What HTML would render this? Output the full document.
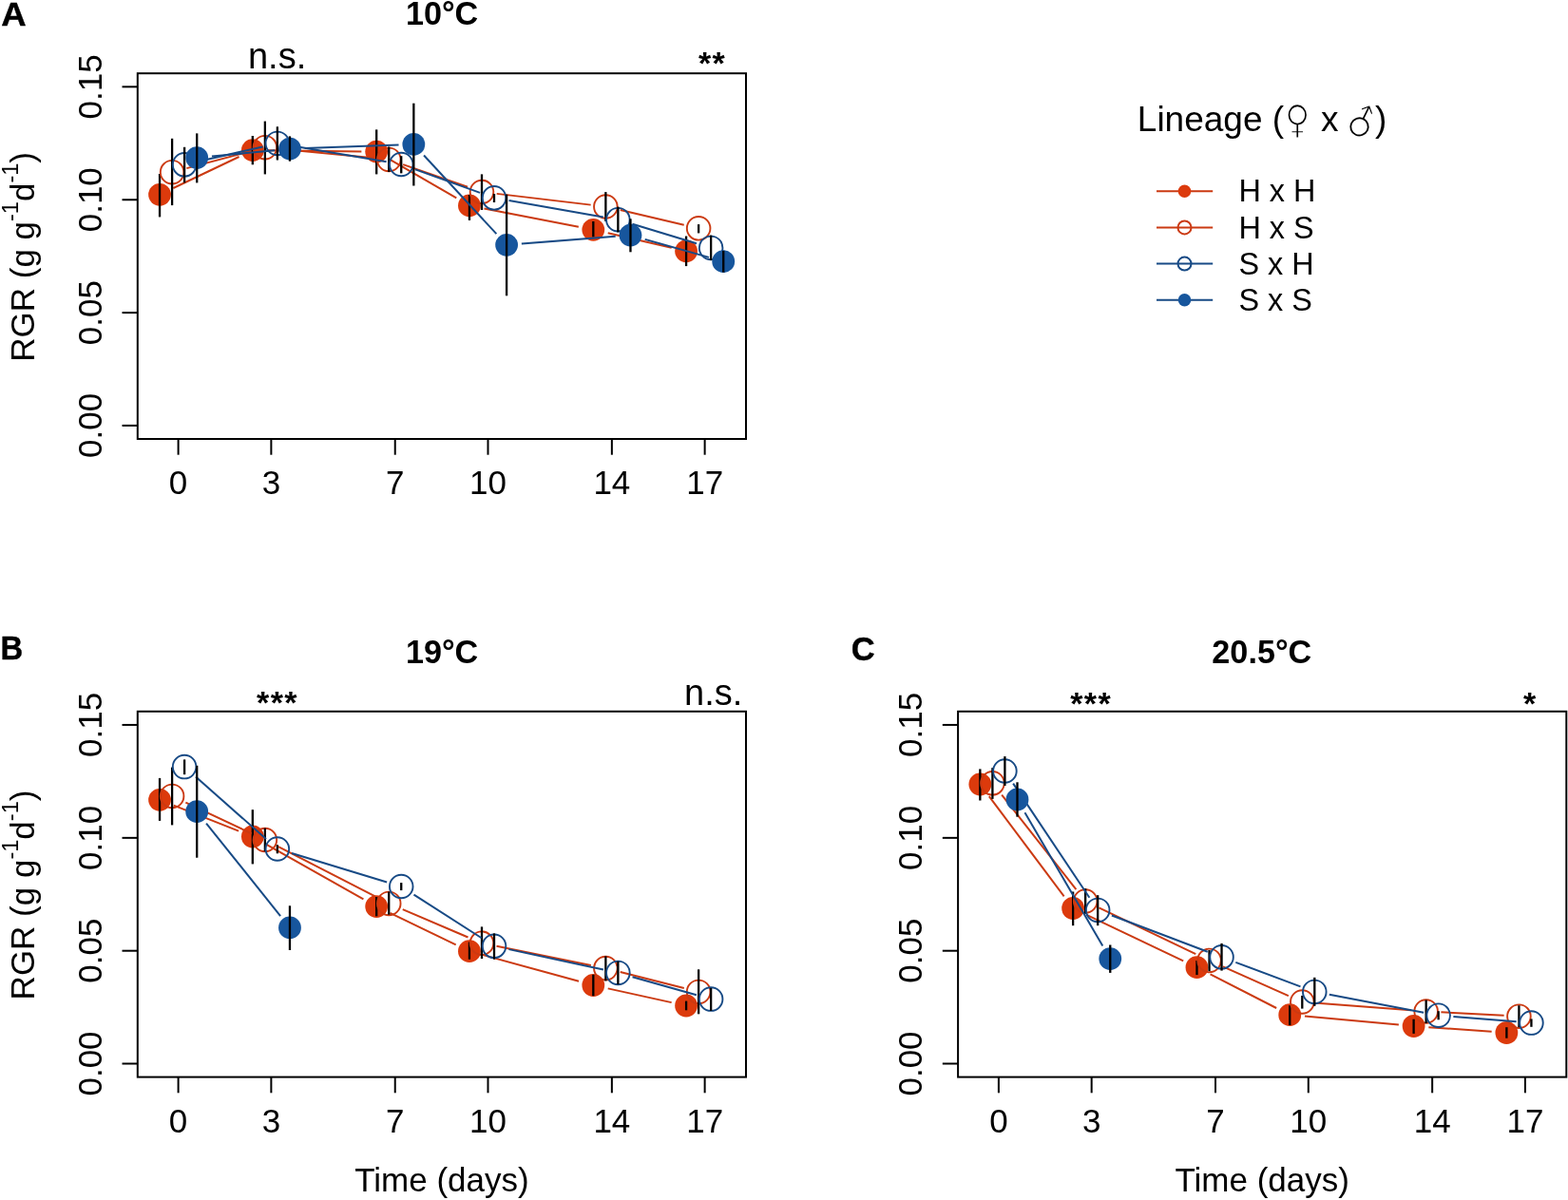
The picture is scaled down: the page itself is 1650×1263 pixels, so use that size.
<!DOCTYPE html>
<html lang="en"><head><meta charset="utf-8"><title>RGR by lineage and temperature</title>
<style>
html,body{margin:0;padding:0;background:#fff;}
body{width:1650px;height:1263px;}
svg{display:block;}
text{font-family:"Liberation Sans", Arial, Helvetica, sans-serif;fill:#000;}
.ax{font-size:35px;}
.sup{font-size:23.5px;}
.bold{font-size:34.5px;font-weight:bold;stroke:#000;stroke-width:0.4px;}
.title{font-size:34.2px;font-weight:bold;}
.sig{font-size:38px;}
.ast{font-size:34px;font-weight:bold;letter-spacing:1.4px;}
.legt{font-size:37px;}
.leg{font-size:32.4px;}
.sym{font-family:"DejaVu Sans", "Liberation Sans", sans-serif;font-size:37px;stroke:#fff;stroke-width:1.5px;}
</style></head>
<body>
<svg width="1650" height="1263" viewBox="0 0 1650 1263" role="img" aria-label="Relative growth rate over time for four lineages at 10, 19 and 20.5 degrees C">
<rect width="1650" height="1263" fill="#fff"/>
<g transform="translate(0,0)">
<rect x="144.8" y="77.2" width="640.2" height="384.8" fill="none" stroke="#000" stroke-width="2.0"/>
<line x1="187.6" y1="462.0" x2="187.6" y2="478.7" stroke="#000" stroke-width="2.0"/>
<text transform="translate(187.6,520.3) scale(1.0,1.02)" text-anchor="middle" class="ax">0</text>
<line x1="285.37" y1="462.0" x2="285.37" y2="478.7" stroke="#000" stroke-width="2.0"/>
<text transform="translate(285.37,520.3) scale(1.0,1.02)" text-anchor="middle" class="ax">3</text>
<line x1="415.73" y1="462.0" x2="415.73" y2="478.7" stroke="#000" stroke-width="2.0"/>
<text transform="translate(415.73,520.3) scale(1.0,1.02)" text-anchor="middle" class="ax">7</text>
<line x1="513.5" y1="462.0" x2="513.5" y2="478.7" stroke="#000" stroke-width="2.0"/>
<text transform="translate(513.5,520.3) scale(1.0,1.02)" text-anchor="middle" class="ax">10</text>
<line x1="643.86" y1="462.0" x2="643.86" y2="478.7" stroke="#000" stroke-width="2.0"/>
<text transform="translate(643.86,520.3) scale(1.0,1.02)" text-anchor="middle" class="ax">14</text>
<line x1="741.63" y1="462.0" x2="741.63" y2="478.7" stroke="#000" stroke-width="2.0"/>
<text transform="translate(741.63,520.3) scale(1.0,1.02)" text-anchor="middle" class="ax">17</text>
<line x1="128.5" y1="91.35" x2="144.8" y2="91.35" stroke="#000" stroke-width="2.0"/>
<text transform="translate(106.9,91.35) rotate(-90) scale(1.0,1.02)" text-anchor="middle" class="ax">0.15</text>
<line x1="128.5" y1="210.25" x2="144.8" y2="210.25" stroke="#000" stroke-width="2.0"/>
<text transform="translate(106.9,210.25) rotate(-90) scale(1.0,1.02)" text-anchor="middle" class="ax">0.10</text>
<line x1="128.5" y1="329.1" x2="144.8" y2="329.1" stroke="#000" stroke-width="2.0"/>
<text transform="translate(106.9,329.1) rotate(-90) scale(1.0,1.02)" text-anchor="middle" class="ax">0.05</text>
<line x1="128.5" y1="447.9" x2="144.8" y2="447.9" stroke="#000" stroke-width="2.0"/>
<text transform="translate(106.9,447.9) rotate(-90) scale(1.0,1.02)" text-anchor="middle" class="ax">0.00</text>
<text transform="translate(35.6,270.4) rotate(-90) scale(1.0,1.0)" text-anchor="middle" class="ax">RGR (g g<tspan class="sup" dy="-17.0">-1</tspan><tspan dy="17.0">d</tspan><tspan class="sup" dy="-17.0">-1</tspan><tspan dy="17.0">)</tspan></text>
</g>
<line x1="182.31" y1="198" x2="251.56" y2="165" stroke="#CB3A12" stroke-width="2.0"/>
<line x1="281.62" y1="158.37" x2="380.38" y2="159.43" stroke="#CB3A12" stroke-width="2.0"/>
<line x1="409.84" y1="167.54" x2="480.29" y2="208.46" stroke="#CB3A12" stroke-width="2.0"/>
<line x1="509.46" y1="219.42" x2="608.8" y2="238.78" stroke="#CB3A12" stroke-width="2.0"/>
<line x1="639.71" y1="245.34" x2="706.68" y2="260.76" stroke="#CB3A12" stroke-width="2.0"/>
<circle cx="168.05" cy="204.8" r="11.9" fill="#DC3A0C"/>
<circle cx="265.82" cy="158.2" r="11.9" fill="#DC3A0C"/>
<circle cx="396.18" cy="159.6" r="11.9" fill="#DC3A0C"/>
<circle cx="493.95" cy="216.4" r="11.9" fill="#DC3A0C"/>
<circle cx="624.31" cy="241.8" r="11.9" fill="#DC3A0C"/>
<circle cx="722.08" cy="264.3" r="11.9" fill="#DC3A0C"/>
<line x1="168.05" y1="183" x2="168.05" y2="228.4" stroke="#000" stroke-width="2.3" stroke-linecap="butt"/>
<line x1="265.82" y1="143" x2="265.82" y2="173.3" stroke="#000" stroke-width="2.3" stroke-linecap="butt"/>
<line x1="396.18" y1="136.4" x2="396.18" y2="183.4" stroke="#000" stroke-width="2.3" stroke-linecap="butt"/>
<line x1="493.95" y1="205" x2="493.95" y2="231.9" stroke="#000" stroke-width="2.3" stroke-linecap="butt"/>
<line x1="624.31" y1="233" x2="624.31" y2="249.4" stroke="#000" stroke-width="2.3" stroke-linecap="butt"/>
<line x1="722.08" y1="248.5" x2="722.08" y2="280.1" stroke="#000" stroke-width="2.3" stroke-linecap="butt"/>
<line x1="196.37" y1="177.14" x2="263.6" y2="159.26" stroke="#CB3A12" stroke-width="2.0"/>
<line x1="294.6" y1="156.73" x2="393.5" y2="166.37" stroke="#CB3A12" stroke-width="2.0"/>
<line x1="424.15" y1="173.1" x2="492.08" y2="196.8" stroke="#CB3A12" stroke-width="2.0"/>
<line x1="522.69" y1="203.87" x2="621.67" y2="215.63" stroke="#CB3A12" stroke-width="2.0"/>
<line x1="652.75" y1="221.09" x2="719.74" y2="236.71" stroke="#CB3A12" stroke-width="2.0"/>
<circle cx="181.1" cy="181.2" r="12.3" fill="none" stroke="#CB3A12" stroke-width="1.9"/>
<circle cx="278.87" cy="155.2" r="12.3" fill="none" stroke="#CB3A12" stroke-width="1.9"/>
<circle cx="409.23" cy="167.9" r="12.3" fill="none" stroke="#CB3A12" stroke-width="1.9"/>
<circle cx="507" cy="202" r="12.3" fill="none" stroke="#CB3A12" stroke-width="1.9"/>
<circle cx="637.36" cy="217.5" r="12.3" fill="none" stroke="#CB3A12" stroke-width="1.9"/>
<circle cx="735.13" cy="240.3" r="12.3" fill="none" stroke="#CB3A12" stroke-width="1.9"/>
<line x1="181.1" y1="145.8" x2="181.1" y2="216.1" stroke="#000" stroke-width="2.3" stroke-linecap="butt"/>
<line x1="278.87" y1="127.6" x2="278.87" y2="183.4" stroke="#000" stroke-width="2.3" stroke-linecap="butt"/>
<line x1="409.23" y1="154.5" x2="409.23" y2="181" stroke="#000" stroke-width="2.3" stroke-linecap="butt"/>
<line x1="507" y1="183.4" x2="507" y2="221" stroke="#000" stroke-width="2.3" stroke-linecap="butt"/>
<line x1="637.36" y1="202.1" x2="637.36" y2="232.9" stroke="#000" stroke-width="2.3" stroke-linecap="butt"/>
<line x1="735.13" y1="236.1" x2="735.13" y2="245.4" stroke="#000" stroke-width="2.3" stroke-linecap="butt"/>
<line x1="209.5" y1="169.77" x2="276.47" y2="154.43" stroke="#174A85" stroke-width="2.0"/>
<line x1="307.45" y1="153.54" x2="406.65" y2="170.36" stroke="#174A85" stroke-width="2.0"/>
<line x1="437.09" y1="178.37" x2="505.14" y2="202.93" stroke="#174A85" stroke-width="2.0"/>
<line x1="535.56" y1="211.03" x2="634.8" y2="228.47" stroke="#174A85" stroke-width="2.0"/>
<line x1="665.48" y1="235.79" x2="733.01" y2="256.31" stroke="#174A85" stroke-width="2.0"/>
<circle cx="194.1" cy="173.3" r="12.3" fill="none" stroke="#174A85" stroke-width="1.9"/>
<circle cx="291.87" cy="150.9" r="12.3" fill="none" stroke="#174A85" stroke-width="1.9"/>
<circle cx="422.23" cy="173" r="12.3" fill="none" stroke="#174A85" stroke-width="1.9"/>
<circle cx="520" cy="208.3" r="12.3" fill="none" stroke="#174A85" stroke-width="1.9"/>
<circle cx="650.36" cy="231.2" r="12.3" fill="none" stroke="#174A85" stroke-width="1.9"/>
<circle cx="748.13" cy="260.9" r="12.3" fill="none" stroke="#174A85" stroke-width="1.9"/>
<line x1="194.1" y1="154.8" x2="194.1" y2="192.4" stroke="#000" stroke-width="2.3" stroke-linecap="butt"/>
<line x1="291.87" y1="133.3" x2="291.87" y2="168.5" stroke="#000" stroke-width="2.3" stroke-linecap="butt"/>
<line x1="422.23" y1="164.2" x2="422.23" y2="182.4" stroke="#000" stroke-width="2.3" stroke-linecap="butt"/>
<line x1="520" y1="204" x2="520" y2="213" stroke="#000" stroke-width="2.3" stroke-linecap="butt"/>
<line x1="650.36" y1="217.6" x2="650.36" y2="244.4" stroke="#000" stroke-width="2.3" stroke-linecap="butt"/>
<line x1="748.13" y1="247.6" x2="748.13" y2="274" stroke="#000" stroke-width="2.3" stroke-linecap="butt"/>
<line x1="222.93" y1="164.59" x2="289.24" y2="158.21" stroke="#174A85" stroke-width="2.0"/>
<line x1="320.76" y1="156.12" x2="419.54" y2="152.48" stroke="#174A85" stroke-width="2.0"/>
<line x1="446.05" y1="163.51" x2="522.38" y2="246.19" stroke="#174A85" stroke-width="2.0"/>
<line x1="548.85" y1="256.57" x2="647.71" y2="248.83" stroke="#174A85" stroke-width="2.0"/>
<line x1="678.67" y1="251.89" x2="746.02" y2="270.91" stroke="#174A85" stroke-width="2.0"/>
<circle cx="207.2" cy="166.1" r="11.9" fill="#17569D"/>
<circle cx="304.97" cy="156.7" r="11.9" fill="#17569D"/>
<circle cx="435.33" cy="151.9" r="11.9" fill="#17569D"/>
<circle cx="533.1" cy="257.8" r="11.9" fill="#17569D"/>
<circle cx="663.46" cy="247.6" r="11.9" fill="#17569D"/>
<circle cx="761.23" cy="275.2" r="11.9" fill="#17569D"/>
<line x1="207.2" y1="140.4" x2="207.2" y2="192.4" stroke="#000" stroke-width="2.3" stroke-linecap="butt"/>
<line x1="304.97" y1="143.4" x2="304.97" y2="169.7" stroke="#000" stroke-width="2.3" stroke-linecap="butt"/>
<line x1="435.33" y1="108.7" x2="435.33" y2="195.5" stroke="#000" stroke-width="2.3" stroke-linecap="butt"/>
<line x1="533.1" y1="204.7" x2="533.1" y2="311.3" stroke="#000" stroke-width="2.3" stroke-linecap="butt"/>
<line x1="663.46" y1="230.3" x2="663.46" y2="265.3" stroke="#000" stroke-width="2.3" stroke-linecap="butt"/>
<line x1="761.23" y1="263.9" x2="761.23" y2="286.6" stroke="#000" stroke-width="2.3" stroke-linecap="butt"/>
<g transform="translate(0,671.6)">
<rect x="144.8" y="77.2" width="640.2" height="384.8" fill="none" stroke="#000" stroke-width="2.0"/>
<line x1="187.6" y1="462.0" x2="187.6" y2="478.7" stroke="#000" stroke-width="2.0"/>
<text transform="translate(187.6,520.3) scale(1.0,1.02)" text-anchor="middle" class="ax">0</text>
<line x1="285.37" y1="462.0" x2="285.37" y2="478.7" stroke="#000" stroke-width="2.0"/>
<text transform="translate(285.37,520.3) scale(1.0,1.02)" text-anchor="middle" class="ax">3</text>
<line x1="415.73" y1="462.0" x2="415.73" y2="478.7" stroke="#000" stroke-width="2.0"/>
<text transform="translate(415.73,520.3) scale(1.0,1.02)" text-anchor="middle" class="ax">7</text>
<line x1="513.5" y1="462.0" x2="513.5" y2="478.7" stroke="#000" stroke-width="2.0"/>
<text transform="translate(513.5,520.3) scale(1.0,1.02)" text-anchor="middle" class="ax">10</text>
<line x1="643.86" y1="462.0" x2="643.86" y2="478.7" stroke="#000" stroke-width="2.0"/>
<text transform="translate(643.86,520.3) scale(1.0,1.02)" text-anchor="middle" class="ax">14</text>
<line x1="741.63" y1="462.0" x2="741.63" y2="478.7" stroke="#000" stroke-width="2.0"/>
<text transform="translate(741.63,520.3) scale(1.0,1.02)" text-anchor="middle" class="ax">17</text>
<line x1="128.5" y1="91.35" x2="144.8" y2="91.35" stroke="#000" stroke-width="2.0"/>
<text transform="translate(106.9,91.35) rotate(-90) scale(1.0,1.02)" text-anchor="middle" class="ax">0.15</text>
<line x1="128.5" y1="210.25" x2="144.8" y2="210.25" stroke="#000" stroke-width="2.0"/>
<text transform="translate(106.9,210.25) rotate(-90) scale(1.0,1.02)" text-anchor="middle" class="ax">0.10</text>
<line x1="128.5" y1="329.1" x2="144.8" y2="329.1" stroke="#000" stroke-width="2.0"/>
<text transform="translate(106.9,329.1) rotate(-90) scale(1.0,1.02)" text-anchor="middle" class="ax">0.05</text>
<line x1="128.5" y1="447.9" x2="144.8" y2="447.9" stroke="#000" stroke-width="2.0"/>
<text transform="translate(106.9,447.9) rotate(-90) scale(1.0,1.02)" text-anchor="middle" class="ax">0.00</text>
<text transform="translate(35.6,270.4) rotate(-90) scale(1.0,1.0)" text-anchor="middle" class="ax">RGR (g g<tspan class="sup" dy="-17.0">-1</tspan><tspan dy="17.0">d</tspan><tspan class="sup" dy="-17.0">-1</tspan><tspan dy="17.0">)</tspan></text>
<text transform="translate(464.9,582.7) scale(1.0,1.0)" text-anchor="middle" class="ax">Time (days)</text>
</g>
<line x1="182.74" y1="847.62" x2="251.13" y2="874.68" stroke="#CB3A12" stroke-width="2.0"/>
<line x1="279.58" y1="888.27" x2="382.42" y2="946.33" stroke="#CB3A12" stroke-width="2.0"/>
<line x1="410.41" y1="960.96" x2="479.72" y2="994.34" stroke="#CB3A12" stroke-width="2.0"/>
<line x1="509.19" y1="1005.38" x2="609.07" y2="1032.82" stroke="#CB3A12" stroke-width="2.0"/>
<line x1="639.74" y1="1040.39" x2="706.65" y2="1055.11" stroke="#CB3A12" stroke-width="2.0"/>
<circle cx="168.05" cy="841.8" r="11.9" fill="#DC3A0C"/>
<circle cx="265.82" cy="880.5" r="11.9" fill="#DC3A0C"/>
<circle cx="396.18" cy="954.1" r="11.9" fill="#DC3A0C"/>
<circle cx="493.95" cy="1001.2" r="11.9" fill="#DC3A0C"/>
<circle cx="624.31" cy="1037" r="11.9" fill="#DC3A0C"/>
<circle cx="722.08" cy="1058.5" r="11.9" fill="#DC3A0C"/>
<line x1="168.05" y1="818.9" x2="168.05" y2="863.9" stroke="#000" stroke-width="2.3" stroke-linecap="butt"/>
<line x1="265.82" y1="852.2" x2="265.82" y2="909.4" stroke="#000" stroke-width="2.3" stroke-linecap="butt"/>
<line x1="396.18" y1="944" x2="396.18" y2="964.3" stroke="#000" stroke-width="2.3" stroke-linecap="butt"/>
<line x1="493.95" y1="991.5" x2="493.95" y2="1009.7" stroke="#000" stroke-width="2.3" stroke-linecap="butt"/>
<line x1="624.31" y1="1025.8" x2="624.31" y2="1048.2" stroke="#000" stroke-width="2.3" stroke-linecap="butt"/>
<line x1="722.08" y1="1053.6" x2="722.08" y2="1063.3" stroke="#000" stroke-width="2.3" stroke-linecap="butt"/>
<line x1="195.39" y1="844.64" x2="264.58" y2="877.26" stroke="#CB3A12" stroke-width="2.0"/>
<line x1="292.93" y1="891.21" x2="395.17" y2="943.69" stroke="#CB3A12" stroke-width="2.0"/>
<line x1="423.76" y1="957.11" x2="492.47" y2="986.49" stroke="#CB3A12" stroke-width="2.0"/>
<line x1="522.49" y1="995.84" x2="621.87" y2="1015.96" stroke="#CB3A12" stroke-width="2.0"/>
<line x1="652.67" y1="1022.98" x2="719.82" y2="1040.02" stroke="#CB3A12" stroke-width="2.0"/>
<circle cx="181.1" cy="837.9" r="12.3" fill="none" stroke="#CB3A12" stroke-width="1.9"/>
<circle cx="278.87" cy="884" r="12.3" fill="none" stroke="#CB3A12" stroke-width="1.9"/>
<circle cx="409.23" cy="950.9" r="12.3" fill="none" stroke="#CB3A12" stroke-width="1.9"/>
<circle cx="507" cy="992.7" r="12.3" fill="none" stroke="#CB3A12" stroke-width="1.9"/>
<circle cx="637.36" cy="1019.1" r="12.3" fill="none" stroke="#CB3A12" stroke-width="1.9"/>
<circle cx="735.13" cy="1043.9" r="12.3" fill="none" stroke="#CB3A12" stroke-width="1.9"/>
<line x1="181.1" y1="807.6" x2="181.1" y2="868.4" stroke="#000" stroke-width="2.3" stroke-linecap="butt"/>
<line x1="278.87" y1="871.6" x2="278.87" y2="896.2" stroke="#000" stroke-width="2.3" stroke-linecap="butt"/>
<line x1="409.23" y1="938.5" x2="409.23" y2="962.7" stroke="#000" stroke-width="2.3" stroke-linecap="butt"/>
<line x1="507" y1="975.4" x2="507" y2="1009.1" stroke="#000" stroke-width="2.3" stroke-linecap="butt"/>
<line x1="637.36" y1="1006.4" x2="637.36" y2="1032.4" stroke="#000" stroke-width="2.3" stroke-linecap="butt"/>
<line x1="735.13" y1="1020.3" x2="735.13" y2="1067.3" stroke="#000" stroke-width="2.3" stroke-linecap="butt"/>
<line x1="205.94" y1="817.56" x2="280.03" y2="883.04" stroke="#174A85" stroke-width="2.0"/>
<line x1="306.99" y1="898.08" x2="407.11" y2="928.42" stroke="#174A85" stroke-width="2.0"/>
<line x1="435.52" y1="941.54" x2="506.71" y2="987.26" stroke="#174A85" stroke-width="2.0"/>
<line x1="535.45" y1="999.13" x2="634.91" y2="1020.57" stroke="#174A85" stroke-width="2.0"/>
<line x1="665.56" y1="1028.21" x2="732.93" y2="1047.29" stroke="#174A85" stroke-width="2.0"/>
<circle cx="194.1" cy="807.1" r="12.3" fill="none" stroke="#174A85" stroke-width="1.9"/>
<circle cx="291.87" cy="893.5" r="12.3" fill="none" stroke="#174A85" stroke-width="1.9"/>
<circle cx="422.23" cy="933" r="12.3" fill="none" stroke="#174A85" stroke-width="1.9"/>
<circle cx="520" cy="995.8" r="12.3" fill="none" stroke="#174A85" stroke-width="1.9"/>
<circle cx="650.36" cy="1023.9" r="12.3" fill="none" stroke="#174A85" stroke-width="1.9"/>
<circle cx="748.13" cy="1051.6" r="12.3" fill="none" stroke="#174A85" stroke-width="1.9"/>
<line x1="194.1" y1="799.4" x2="194.1" y2="815.2" stroke="#000" stroke-width="2.3" stroke-linecap="butt"/>
<line x1="291.87" y1="889.2" x2="291.87" y2="898.3" stroke="#000" stroke-width="2.3" stroke-linecap="butt"/>
<line x1="422.23" y1="929.1" x2="422.23" y2="937.1" stroke="#000" stroke-width="2.3" stroke-linecap="butt"/>
<line x1="520" y1="982.4" x2="520" y2="1009.7" stroke="#000" stroke-width="2.3" stroke-linecap="butt"/>
<line x1="650.36" y1="1011.8" x2="650.36" y2="1036.1" stroke="#000" stroke-width="2.3" stroke-linecap="butt"/>
<line x1="748.13" y1="1039.9" x2="748.13" y2="1063.9" stroke="#000" stroke-width="2.3" stroke-linecap="butt"/>
<line x1="217.07" y1="866.54" x2="295.1" y2="964.06" stroke="#174A85" stroke-width="2.0"/>
<circle cx="207.2" cy="854.2" r="11.9" fill="#17569D"/>
<circle cx="304.97" cy="976.4" r="11.9" fill="#17569D"/>
<line x1="207.2" y1="805.8" x2="207.2" y2="902.7" stroke="#000" stroke-width="2.3" stroke-linecap="butt"/>
<line x1="304.97" y1="953.3" x2="304.97" y2="1000" stroke="#000" stroke-width="2.3" stroke-linecap="butt"/>
<g transform="translate(863.3,671.6)">
<rect x="144.8" y="77.2" width="640.2" height="384.8" fill="none" stroke="#000" stroke-width="2.0"/>
<line x1="187.6" y1="462.0" x2="187.6" y2="478.7" stroke="#000" stroke-width="2.0"/>
<text transform="translate(187.6,520.3) scale(1.0,1.02)" text-anchor="middle" class="ax">0</text>
<line x1="285.37" y1="462.0" x2="285.37" y2="478.7" stroke="#000" stroke-width="2.0"/>
<text transform="translate(285.37,520.3) scale(1.0,1.02)" text-anchor="middle" class="ax">3</text>
<line x1="415.73" y1="462.0" x2="415.73" y2="478.7" stroke="#000" stroke-width="2.0"/>
<text transform="translate(415.73,520.3) scale(1.0,1.02)" text-anchor="middle" class="ax">7</text>
<line x1="513.5" y1="462.0" x2="513.5" y2="478.7" stroke="#000" stroke-width="2.0"/>
<text transform="translate(513.5,520.3) scale(1.0,1.02)" text-anchor="middle" class="ax">10</text>
<line x1="643.86" y1="462.0" x2="643.86" y2="478.7" stroke="#000" stroke-width="2.0"/>
<text transform="translate(643.86,520.3) scale(1.0,1.02)" text-anchor="middle" class="ax">14</text>
<line x1="741.63" y1="462.0" x2="741.63" y2="478.7" stroke="#000" stroke-width="2.0"/>
<text transform="translate(741.63,520.3) scale(1.0,1.02)" text-anchor="middle" class="ax">17</text>
<line x1="128.5" y1="91.35" x2="144.8" y2="91.35" stroke="#000" stroke-width="2.0"/>
<text transform="translate(106.9,91.35) rotate(-90) scale(1.0,1.02)" text-anchor="middle" class="ax">0.15</text>
<line x1="128.5" y1="210.25" x2="144.8" y2="210.25" stroke="#000" stroke-width="2.0"/>
<text transform="translate(106.9,210.25) rotate(-90) scale(1.0,1.02)" text-anchor="middle" class="ax">0.10</text>
<line x1="128.5" y1="329.1" x2="144.8" y2="329.1" stroke="#000" stroke-width="2.0"/>
<text transform="translate(106.9,329.1) rotate(-90) scale(1.0,1.02)" text-anchor="middle" class="ax">0.05</text>
<line x1="128.5" y1="447.9" x2="144.8" y2="447.9" stroke="#000" stroke-width="2.0"/>
<text transform="translate(106.9,447.9) rotate(-90) scale(1.0,1.02)" text-anchor="middle" class="ax">0.00</text>
<text transform="translate(464.9,582.7) scale(1.0,1.0)" text-anchor="middle" class="ax">Time (days)</text>
</g>
<line x1="1040.82" y1="838.14" x2="1119.65" y2="943.36" stroke="#CB3A12" stroke-width="2.0"/>
<line x1="1143.38" y1="962.8" x2="1245.22" y2="1011.4" stroke="#CB3A12" stroke-width="2.0"/>
<line x1="1273.55" y1="1025.39" x2="1343.18" y2="1061.01" stroke="#CB3A12" stroke-width="2.0"/>
<line x1="1372.99" y1="1069.62" x2="1471.87" y2="1078.58" stroke="#CB3A12" stroke-width="2.0"/>
<line x1="1503.37" y1="1081.13" x2="1569.62" y2="1085.87" stroke="#CB3A12" stroke-width="2.0"/>
<circle cx="1031.35" cy="825.5" r="11.9" fill="#DC3A0C"/>
<circle cx="1129.12" cy="956" r="11.9" fill="#DC3A0C"/>
<circle cx="1259.48" cy="1018.2" r="11.9" fill="#DC3A0C"/>
<circle cx="1357.25" cy="1068.2" r="11.9" fill="#DC3A0C"/>
<circle cx="1487.61" cy="1080" r="11.9" fill="#DC3A0C"/>
<circle cx="1585.38" cy="1087" r="11.9" fill="#DC3A0C"/>
<line x1="1031.35" y1="809.4" x2="1031.35" y2="842.5" stroke="#000" stroke-width="2.3" stroke-linecap="butt"/>
<line x1="1129.12" y1="938.5" x2="1129.12" y2="974.2" stroke="#000" stroke-width="2.3" stroke-linecap="butt"/>
<line x1="1259.48" y1="1011" x2="1259.48" y2="1026.1" stroke="#000" stroke-width="2.3" stroke-linecap="butt"/>
<line x1="1357.25" y1="1058.2" x2="1357.25" y2="1079" stroke="#000" stroke-width="2.3" stroke-linecap="butt"/>
<line x1="1487.61" y1="1072.7" x2="1487.61" y2="1087.9" stroke="#000" stroke-width="2.3" stroke-linecap="butt"/>
<line x1="1585.38" y1="1081.2" x2="1585.38" y2="1092.7" stroke="#000" stroke-width="2.3" stroke-linecap="butt"/>
<line x1="1054.17" y1="836.71" x2="1132.4" y2="936.09" stroke="#CB3A12" stroke-width="2.0"/>
<line x1="1156.42" y1="955.32" x2="1258.28" y2="1004.08" stroke="#CB3A12" stroke-width="2.0"/>
<line x1="1286.96" y1="1017.34" x2="1355.87" y2="1048.06" stroke="#CB3A12" stroke-width="2.0"/>
<line x1="1386.05" y1="1055.71" x2="1484.91" y2="1063.29" stroke="#CB3A12" stroke-width="2.0"/>
<line x1="1516.44" y1="1065.34" x2="1582.65" y2="1068.86" stroke="#CB3A12" stroke-width="2.0"/>
<circle cx="1044.4" cy="824.3" r="12.3" fill="none" stroke="#CB3A12" stroke-width="1.9"/>
<circle cx="1142.17" cy="948.5" r="12.3" fill="none" stroke="#CB3A12" stroke-width="1.9"/>
<circle cx="1272.53" cy="1010.9" r="12.3" fill="none" stroke="#CB3A12" stroke-width="1.9"/>
<circle cx="1370.3" cy="1054.5" r="12.3" fill="none" stroke="#CB3A12" stroke-width="1.9"/>
<circle cx="1500.66" cy="1064.5" r="12.3" fill="none" stroke="#CB3A12" stroke-width="1.9"/>
<circle cx="1598.43" cy="1069.7" r="12.3" fill="none" stroke="#CB3A12" stroke-width="1.9"/>
<line x1="1044.4" y1="808.2" x2="1044.4" y2="840.9" stroke="#000" stroke-width="2.3" stroke-linecap="butt"/>
<line x1="1142.17" y1="935.2" x2="1142.17" y2="961.8" stroke="#000" stroke-width="2.3" stroke-linecap="butt"/>
<line x1="1272.53" y1="1000" x2="1272.53" y2="1022.1" stroke="#000" stroke-width="2.3" stroke-linecap="butt"/>
<line x1="1370.3" y1="1047.9" x2="1370.3" y2="1061.6" stroke="#000" stroke-width="2.3" stroke-linecap="butt"/>
<line x1="1500.66" y1="1052.5" x2="1500.66" y2="1077" stroke="#000" stroke-width="2.3" stroke-linecap="butt"/>
<line x1="1598.43" y1="1058.2" x2="1598.43" y2="1081.2" stroke="#000" stroke-width="2.3" stroke-linecap="butt"/>
<line x1="1066.17" y1="824.64" x2="1146.4" y2="944.76" stroke="#174A85" stroke-width="2.0"/>
<line x1="1169.94" y1="963.5" x2="1270.76" y2="1001.7" stroke="#174A85" stroke-width="2.0"/>
<line x1="1300.33" y1="1012.84" x2="1368.5" y2="1038.36" stroke="#174A85" stroke-width="2.0"/>
<line x1="1398.82" y1="1046.85" x2="1498.14" y2="1065.75" stroke="#174A85" stroke-width="2.0"/>
<line x1="1529.41" y1="1069.97" x2="1595.68" y2="1075.33" stroke="#174A85" stroke-width="2.0"/>
<circle cx="1057.4" cy="811.5" r="12.3" fill="none" stroke="#174A85" stroke-width="1.9"/>
<circle cx="1155.17" cy="957.9" r="12.3" fill="none" stroke="#174A85" stroke-width="1.9"/>
<circle cx="1285.53" cy="1007.3" r="12.3" fill="none" stroke="#174A85" stroke-width="1.9"/>
<circle cx="1383.3" cy="1043.9" r="12.3" fill="none" stroke="#174A85" stroke-width="1.9"/>
<circle cx="1513.66" cy="1068.7" r="12.3" fill="none" stroke="#174A85" stroke-width="1.9"/>
<circle cx="1611.43" cy="1076.6" r="12.3" fill="none" stroke="#174A85" stroke-width="1.9"/>
<line x1="1057.4" y1="796.1" x2="1057.4" y2="827" stroke="#000" stroke-width="2.3" stroke-linecap="butt"/>
<line x1="1155.17" y1="942.2" x2="1155.17" y2="974.2" stroke="#000" stroke-width="2.3" stroke-linecap="butt"/>
<line x1="1285.53" y1="992.9" x2="1285.53" y2="1021.6" stroke="#000" stroke-width="2.3" stroke-linecap="butt"/>
<line x1="1383.3" y1="1028.8" x2="1383.3" y2="1058.8" stroke="#000" stroke-width="2.3" stroke-linecap="butt"/>
<line x1="1513.66" y1="1064.2" x2="1513.66" y2="1073.3" stroke="#000" stroke-width="2.3" stroke-linecap="butt"/>
<line x1="1611.43" y1="1072.4" x2="1611.43" y2="1080.8" stroke="#000" stroke-width="2.3" stroke-linecap="butt"/>
<line x1="1078.46" y1="855.15" x2="1160.31" y2="995.45" stroke="#174A85" stroke-width="2.0"/>
<circle cx="1070.5" cy="841.5" r="11.9" fill="#17569D"/>
<circle cx="1168.27" cy="1009.1" r="11.9" fill="#17569D"/>
<line x1="1070.5" y1="823.3" x2="1070.5" y2="859.7" stroke="#000" stroke-width="2.3" stroke-linecap="butt"/>
<line x1="1168.27" y1="994.5" x2="1168.27" y2="1023.9" stroke="#000" stroke-width="2.3" stroke-linecap="butt"/>
<text transform="translate(1.3,27.45) scale(1.06,1.01)" class="bold">A</text>
<text transform="translate(0.55,693.95) scale(0.95,1.0)" class="bold">B</text>
<text transform="translate(895.7,694.6) scale(1.0,1.04)" class="bold">C</text>
<text transform="translate(465.1,26.3) scale(1.0,1.03)" text-anchor="middle" class="title">10°C</text>
<text transform="translate(465.1,697.7) scale(1.0,1.03)" text-anchor="middle" class="title">19°C</text>
<text transform="translate(1327.8,697.8) scale(1.0,1.03)" text-anchor="middle" class="title">20.5°C</text>
<text transform="translate(291.6,71.8) scale(1.0,1.0)" text-anchor="middle" class="sig">n.s.</text>
<text transform="translate(749.5,78.3) scale(1.0,1.0)" text-anchor="middle" class="ast">**</text>
<text transform="translate(292,750.5) scale(1.0,1.0)" text-anchor="middle" class="ast">***</text>
<text transform="translate(750.7,742) scale(1.0,1.0)" text-anchor="middle" class="sig">n.s.</text>
<text transform="translate(1148.1,751.7) scale(1.0,1.0)" text-anchor="middle" class="ast">***</text>
<text transform="translate(1610.3,751.7) scale(1.0,1.0)" text-anchor="middle" class="ast">*</text>
<text transform="translate(1196.8,138.2) scale(1.0,1.0)" class="legt">Lineage (</text>
<text transform="translate(1351.8,140.2) scale(1.0,1.13)" class="sym">♀</text>
<text transform="translate(1390,138.2) scale(1.0,1.0)" class="legt"> x </text>
<text transform="rotate(-20 1430 133.9) translate(1416.5,143.6)" class="sym" style="font-size:39px">♂</text>
<text transform="translate(1447,138.2) scale(1.0,1.0)" class="legt">)</text>
<line x1="1217" y1="201.2" x2="1276.2" y2="201.2" stroke="#CB3A12" stroke-width="2.0"/>
<circle cx="1246.5" cy="201.2" r="6.8" fill="#DC3A0C"/>
<text transform="translate(1303.4,212.4) scale(1.0,1.0)" class="leg">H x H</text>
<line x1="1217" y1="239.4" x2="1276.2" y2="239.4" stroke="#CB3A12" stroke-width="2.0"/>
<circle cx="1246.5" cy="239.4" r="7" fill="none" stroke="#CB3A12" stroke-width="2.0"/>
<text transform="translate(1303.4,250.6) scale(1.0,1.0)" class="leg">H x S</text>
<line x1="1217" y1="277.6" x2="1276.2" y2="277.6" stroke="#174A85" stroke-width="2.0"/>
<circle cx="1246.5" cy="277.6" r="7" fill="none" stroke="#174A85" stroke-width="2.0"/>
<text transform="translate(1303.4,288.8) scale(1.0,1.0)" class="leg">S x H</text>
<line x1="1217" y1="315.8" x2="1276.2" y2="315.8" stroke="#174A85" stroke-width="2.0"/>
<circle cx="1246.5" cy="315.8" r="6.8" fill="#17569D"/>
<text transform="translate(1303.4,327) scale(1.0,1.0)" class="leg">S x S</text>
</svg>
</body></html>
